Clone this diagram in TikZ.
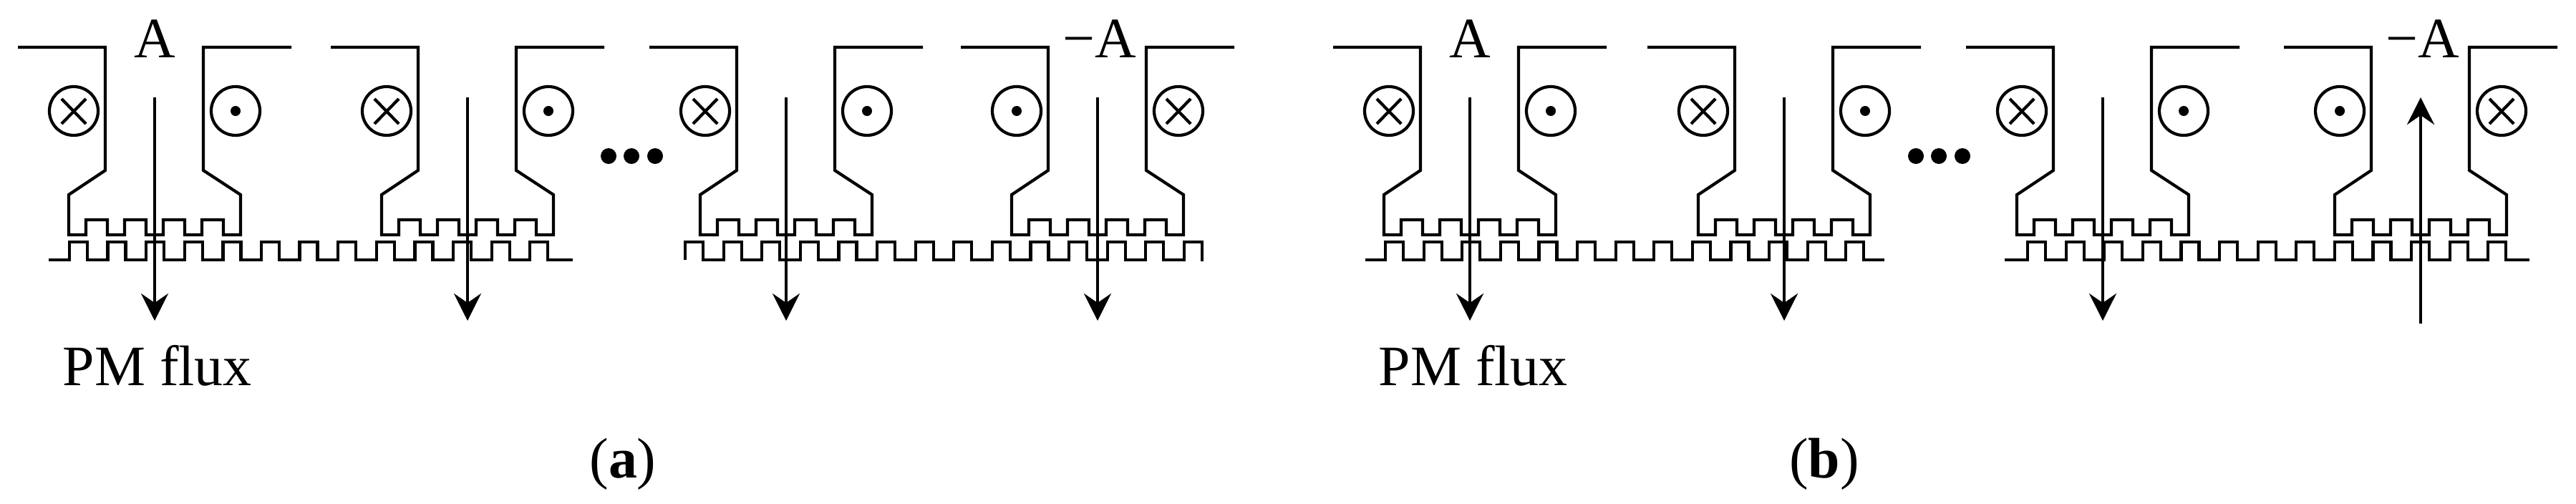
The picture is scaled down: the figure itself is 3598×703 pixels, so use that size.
\documentclass[tikz,border=0pt]{standalone}
\usepackage{fontspec}
\setmainfont{Liberation Serif}
\usetikzlibrary{arrows.meta}
\begin{document}
\begin{tikzpicture}[x=0.01cm,y=-0.01cm,
  ln/.style={line width=1.2pt,line join=miter},
  arr/.style={line width=1.2pt,-{Stealth[length=0.38cm,width=0.38cm,inset=0.13cm]}},
  lab/.style={font=\fontsize{22.7pt}{27pt}\selectfont,inner sep=0pt}]
\useasboundingbox (0,0) rectangle (3598,703);
% stator modules
\foreach \c in {216,653,1098,1533,2053,2492,2937,3381}{
  \draw[ln] ({\c-191},66) -- ({\c-69},66) -- ({\c-69},238) -- ({\c-120},272) -- ({\c-120},328)
    -- ({\c-96},328) -- ({\c-96},307) -- ({\c-66},307) -- ({\c-66},328) -- ({\c-42},328) -- ({\c-42},307)
    -- ({\c-12},307) -- ({\c-12},328) -- ({\c+12},328) -- ({\c+12},307) -- ({\c+42},307) -- ({\c+42},328)
    -- ({\c+66},328) -- ({\c+66},307) -- ({\c+96},307) -- ({\c+96},328) -- ({\c+120},328)
    -- ({\c+120},272) -- ({\c+68},238) -- ({\c+68},66) -- ({\c+191},66);
}
% coils: cross left / dot right
\foreach \c in {216,653,1098,2053,2492,2937}{
  \draw[ln] ({\c-113},155) circle[radius=0.34cm];
  \draw[ln] ({\c-113-17},138) -- ({\c-113+17},173) ({\c-113-17},173) -- ({\c-113+17},138);
  \draw[ln] ({\c+113},155) circle[radius=0.34cm];
  \fill ({\c+113},155) circle[radius=0.07cm];
}
\foreach \c in {1533,3381}{
  \draw[ln] ({\c+113},155) circle[radius=0.34cm];
  \draw[ln] ({\c+113-17},138) -- ({\c+113+17},173) ({\c+113-17},173) -- ({\c+113+17},138);
  \draw[ln] ({\c-113},155) circle[radius=0.34cm];
  \fill ({\c-113},155) circle[radius=0.07cm];
}
% movers
\foreach \s/\t/\n/\e in {68/97/12/800, 957/957/13/1681, 1907/1935/12/2632, 2800/2832/12/3533}{
  \draw[ln] (\s,363) foreach \k in {0,...,\n}{ -- ({\t+\k*53.6},363) -- ({\t+\k*53.6},338)
     -- ({\t+\k*53.6+25},338) -- ({\t+\k*53.6+25},363) } -- (\e,363);
}
% dots
\foreach \x in {850,882,915,2676,2708,2741} \fill (\x,218) circle[radius=0.11cm];
% flux arrows
\foreach \c [count=\i] in {216,653,1098,1533,2053,2492,2937}{
  \coordinate (t\i) at (\c,136); \coordinate (b\i) at (\c,448);
  \draw[arr] (t\i) -- (b\i);
}
\coordinate (t8) at (3381,136); \coordinate (b8) at (3381,452);
\draw[arr] (b8) -- (t8);
% labels
\node[lab,anchor=base] (la1) at (216,80) {A};
\node[lab,anchor=base] (la2) at (1536,80) {−A};
\node[lab,anchor=base] (lb1) at (2053,80) {A};
\node[lab,anchor=base] (lb2) at (3384,80) {−A};
\node[lab,anchor=base west] (pa) at (87,538) {PM flux};
\node[lab,anchor=base west] (pb) at (1925,538) {PM flux};
\node[lab,anchor=base] (ca) at (870,667) {(\textbf{a})};
\node[lab,anchor=base] (cb) at (2548,667) {(\textbf{b})};
\end{tikzpicture}
\end{document}
